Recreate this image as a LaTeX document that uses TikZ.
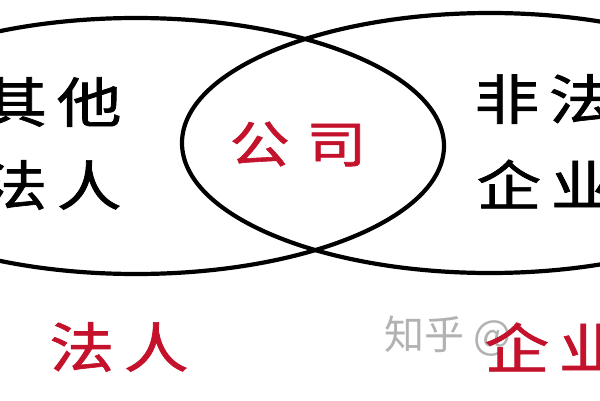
\documentclass[tikz,border=0pt]{standalone}
\usepackage{fontspec}
\usepackage{graphicx}
\newfontfamily\cjk[FakeBold=1.2]{Noto Sans CJK SC}
\newfontfamily\cjklight{Noto Sans CJK SC}
\definecolor{darkred}{RGB}{196,18,44}

\begin{document}
\begin{tikzpicture}[x=1pt, y=1pt, line width=4.2pt,
                every node/.style={inner sep=0pt, font=\cjk\fontsize{54}{54}\selectfont},
                big/.style={text=black},
                redtxt/.style={text=darkred}]
                \useasboundingbox (0,0) rectangle (600,400);
                \clip (0,0) rectangle (600,400);
                \fill[white] (0,0) rectangle (600,400);
                \draw (136,254) ellipse [x radius=308, y radius=128];
                \draw (490,257) ellipse [x radius=308, y radius=130];
                \node[big] (other) at (52,298) {\scalebox{1.2}[1]{其\hspace{8pt}他}};
                \node[big] (legal) at (52,215) {\scalebox{1.2}[1]{法\hspace{8pt}人}};
                \node[big] (nonlegal) at (544,301) {\scalebox{1.2}[1]{非\hspace{8pt}法}};
                \node[big] (firm) at (546,216) {\scalebox{1.2}[1]{企\hspace{8pt}业}};
                \node[redtxt, font=\cjk\fontsize{50}{50}\selectfont] (company) at (298,256) {\scalebox{1.2}[1]{公\hspace{14pt}司}};
                \node[text=black!30, font=\cjklight\fontsize{40}{40}\selectfont, anchor=west] (mark) at (382,64) {知乎 @};
                \node[redtxt] (legalbot) at (119,53) {\scalebox{1.2}[1]{法\hspace{8pt}人}};
                \node[redtxt] (firmbot) at (554,53) {\scalebox{1.2}[1]{企\hspace{8pt}业}};
                \end{tikzpicture}
\end{document}
